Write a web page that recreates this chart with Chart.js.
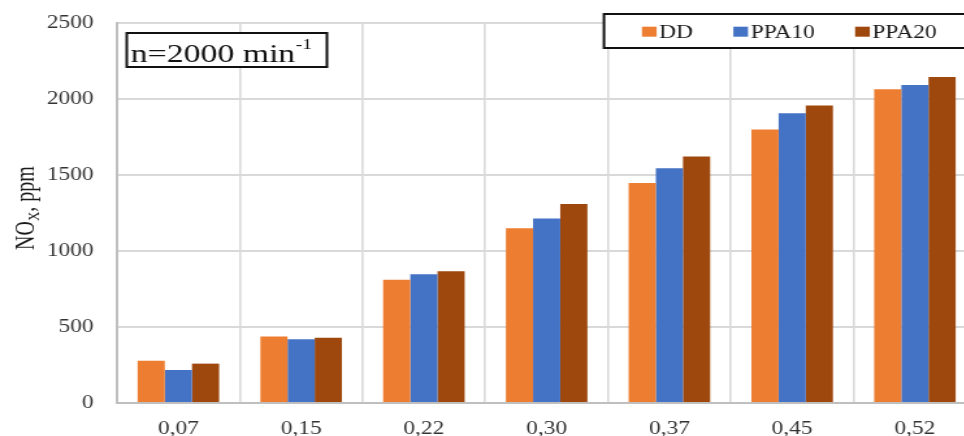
<!DOCTYPE html>
<html>
<head>
<meta charset="utf-8">
<script src="https://cdn.jsdelivr.net/npm/chart.js@4.4.1/dist/chart.umd.min.js"></script>
<style>
  html, body { margin: 0; padding: 0; background: #fff; overflow: hidden; width: 964px; height: 436px; }
  #c { display: block; transform: scaleX(1.3); transform-origin: 0 0; }
</style>
</head>
<body>
<canvas id="c" width="760" height="436"></canvas>
<script>
// Load levels (x categories)
const categories = ['0,07', '0,15', '0,22', '0,30', '0,37', '0,45', '0,52'];

// NOx emissions, ppm
const seriesNames = ['DD', 'PPA10', 'PPA20'];
const ddValues    = [278, 437, 811, 1150, 1447, 1800, 2064];
const ppa10Values = [217, 419, 847, 1213, 1544, 1906, 2092];
const ppa20Values = [259, 430, 866, 1309, 1621, 1958, 2145];
const seriesColors = ['#ED7D31', '#4472C4', '#9E480E'];

// Y axis ticks
const yTicks = [0, 500, 1000, 1500, 2000, 2500];

const annotationMain = 'n=2000 min';
const annotationSup = '-1';
const yTitleMain = 'NO';
const yTitleSub = 'X';
const yTitleRest = ', ppm';

const serif = '"Liberation Serif", "Times New Roman", serif';

const overlays = {
  id: 'overlays',
  afterDraw(chart) {
    const ctx = chart.ctx;
    ctx.save();

    // Legend box with white fill and dark border
    const lx = 464.6, ly = 14, lw = 320, lh = 34;
    ctx.fillStyle = '#fff';
    ctx.fillRect(lx, ly, lw, lh);
    ctx.strokeStyle = '#111';
    ctx.lineWidth = 2;
    ctx.strokeRect(lx, ly, lw, lh);

    ctx.font = '18px ' + serif;
    ctx.textBaseline = 'alphabetic';
    ctx.textAlign = 'left';
    let x = 493.8;
    chart.data.datasets.forEach((ds) => {
      ctx.fillStyle = ds.backgroundColor;
      ctx.fillRect(x, 26.7, 11.3, 10);
      ctx.fillStyle = '#1a1a1a';
      const tx = x + 13.3;
      ctx.fillText(ds.label, tx, 38.3);
      x = tx + ctx.measureText(ds.label).width + 31;
    });

    // Speed annotation box
    ctx.fillStyle = '#fff';
    ctx.fillRect(97.5, 33, 154, 34);
    ctx.strokeStyle = '#111';
    ctx.lineWidth = 2;
    ctx.strokeRect(97.5, 33, 154, 34);
    ctx.fillStyle = '#111';
    ctx.font = '26px ' + serif;
    ctx.fillText(annotationMain, 100.5, 61.5);
    const mw = ctx.measureText(annotationMain).width;
    ctx.font = '15px ' + serif;
    ctx.fillText(annotationSup, 100.5 + mw + 0.5, 49);

    // Rotated y axis title with subscript
    ctx.translate(26, 208);
    ctx.rotate(-Math.PI / 2);
    ctx.fillStyle = '#1a1a1a';
    ctx.font = '20px ' + serif;
    const w1 = ctx.measureText(yTitleMain).width;
    ctx.font = '13px ' + serif;
    const w2 = ctx.measureText(yTitleSub).width;
    ctx.font = '20px ' + serif;
    const w3 = ctx.measureText(yTitleRest).width;
    let sx = -(w1 + w2 + w3) / 2;
    ctx.fillText(yTitleMain, sx, 0);
    sx += w1;
    ctx.font = '13px ' + serif;
    ctx.fillText(yTitleSub, sx, 4);
    sx += w2;
    ctx.font = '20px ' + serif;
    ctx.fillText(yTitleRest, sx, 0);

    ctx.restore();
  }
};

new Chart(document.getElementById('c'), {
  type: 'bar',
  data: {
    labels: categories,
    datasets: [
      { label: seriesNames[0], data: ddValues, backgroundColor: seriesColors[0] },
      { label: seriesNames[1], data: ppa10Values, backgroundColor: seriesColors[1] },
      { label: seriesNames[2], data: ppa20Values, backgroundColor: seriesColors[2] }
    ]
  },
  options: {
    responsive: false,
    animation: false,
    devicePixelRatio: 1,
    layout: { autoPadding: false, padding: { left: 36, right: 9, top: 23, bottom: 0 } },
    datasets: {
      bar: { categoryPercentage: 0.664, barPercentage: 1.0, borderWidth: 0 }
    },
    plugins: {
      legend: { display: false },
      tooltip: { enabled: false }
    },
    scales: {
      x: {
        grid: { color: '#d9d9d9', lineWidth: 1.6, drawTicks: false, offset: true },
        border: { color: '#bfbfbf', width: 2 },
        ticks: { font: { family: serif, size: 18 }, color: '#333', padding: 15, maxRotation: 0 },
        afterFit(scale) { scale.height = 33; scale.paddingLeft = 0; scale.paddingRight = 0; }
      },
      y: {
        min: 0,
        max: 2500,
        grid: { color: '#d9d9d9', lineWidth: 2, drawTicks: false },
        border: { color: '#bfbfbf', width: 2 },
        afterBuildTicks(scale) { scale.ticks = yTicks.map(v => ({ value: v })); },
        ticks: { font: { family: serif, size: 18 }, color: '#333', padding: 18, callback: (v) => String(v) },
        afterFit(scale) { scale.width = 54; scale.paddingTop = 0; scale.paddingBottom = 0; }
      }
    }
  },
  plugins: [overlays]
});
</script>
</body>
</html>
